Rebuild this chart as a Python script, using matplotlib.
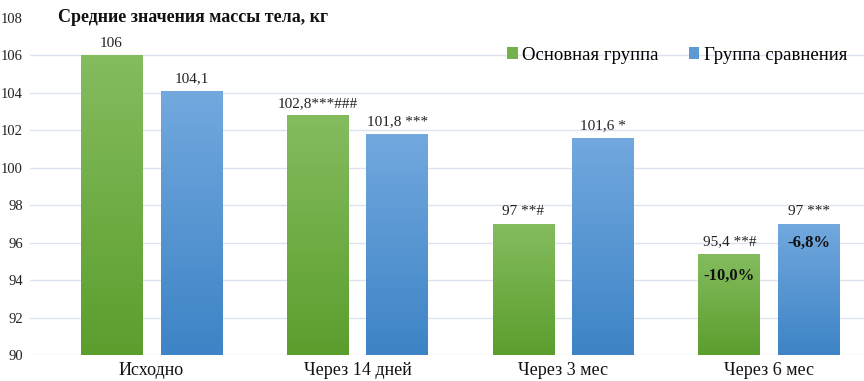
import matplotlib
matplotlib.use("Agg")
import matplotlib.pyplot as plt
import numpy as np
from matplotlib.colors import LinearSegmentedColormap

categories = ["Исходно", "Через 14 дней", "Через 3 мес", "Через 6 мес"]
main_vals = [106, 102.8, 97, 95.4]
comp_vals = [104.1, 101.8, 101.6, 97]
main_labels = ["106", "102,8***###", "97 **#", "95,4 **#"]
comp_labels = ["104,1", "101,8 ***", "101,6 *", "97 ***"]
series_names = ["Основная группа", "Группа сравнения"]
change_labels = {3: ("-10,0%", "-6,8%")}
yticks = [90, 92, 94, 96, 98, 100, 102, 104, 106, 108]

plt.rcParams['font.family'] = ['Liberation Serif', 'DejaVu Serif']

fig = plt.figure(figsize=(8.64, 3.81), dpi=100)
ax = fig.add_axes([30 / 864, 26 / 381, 834 / 864, 337 / 381])

green_cm = LinearSegmentedColormap.from_list("g", ["#5c9e2e", "#84bc5e"])
blue_cm = LinearSegmentedColormap.from_list("b", ["#3d84c6", "#72a8de"])

x = np.arange(len(categories))
w = 0.30
off = 0.194
grad = np.linspace(0, 1, 100).reshape(-1, 1)

for vals, cm, sign, name in [(main_vals, green_cm, -1, series_names[0]),
                              (comp_vals, blue_cm, 1, series_names[1])]:
    bars = ax.bar(x + sign * off, np.array(vals) - 90, width=w, bottom=90,
                  color=cm(0.6), label=name, zorder=2)
    for b in bars:
        x0, y0 = b.get_x(), b.get_y()
        im = ax.imshow(grad, cmap=cm, origin='lower', aspect='auto',
                       extent=[x0, x0 + b.get_width(), y0, y0 + b.get_height()],
                       zorder=2.5)
        im.set_clip_path(b)

for i in range(len(categories)):
    ax.text(x[i] - off, main_vals[i] + 0.3, main_labels[i], ha='center',
            va='bottom', fontsize=11, color='#222222')
    ax.text(x[i] + off, comp_vals[i] + 0.3, comp_labels[i], ha='center',
            va='bottom', fontsize=11, color='#222222')

for i, (lm, lc) in change_labels.items():
    ax.text(x[i] - off, 94.2, lm, ha='center', va='center', fontsize=12,
            fontweight='bold', color='#111111', zorder=5)
    ax.text(x[i] + off, 96.0, lc, ha='center', va='center', fontsize=12,
            fontweight='bold', color='#111111', zorder=5)

ax.set_xlim(-0.59, 3.46)
ax.set_ylim(90, 108)
ax.set_yticks(yticks)
ax.set_yticklabels([str(v) for v in yticks], fontsize=10.5, color='#222222')
ax.set_xticks(x)
ax.set_xticklabels(categories, fontsize=13, color='#111111')
ax.tick_params(axis='x', length=0, pad=5)
ax.tick_params(axis='y', length=0, pad=5)
# gridlines below the top value only
for v in yticks[:-1]:
    ax.axhline(v, color='#dde3ee', linewidth=1, zorder=0)
for s in ax.spines.values():
    s.set_visible(False)

ax.text(28 / 834, 1.0, "Средние значения массы тела, кг",
        transform=ax.transAxes, fontsize=13, fontweight='bold',
        ha='left', va='center', color='#111111')

ax.legend(loc='upper right', bbox_to_anchor=(1.0, 0.965), ncol=2, frameon=False,
          fontsize=13.5, handlelength=0.55, handleheight=0.55, handletextpad=0.25,
          columnspacing=1.6)

fig.savefig("out.png", dpi=100)
